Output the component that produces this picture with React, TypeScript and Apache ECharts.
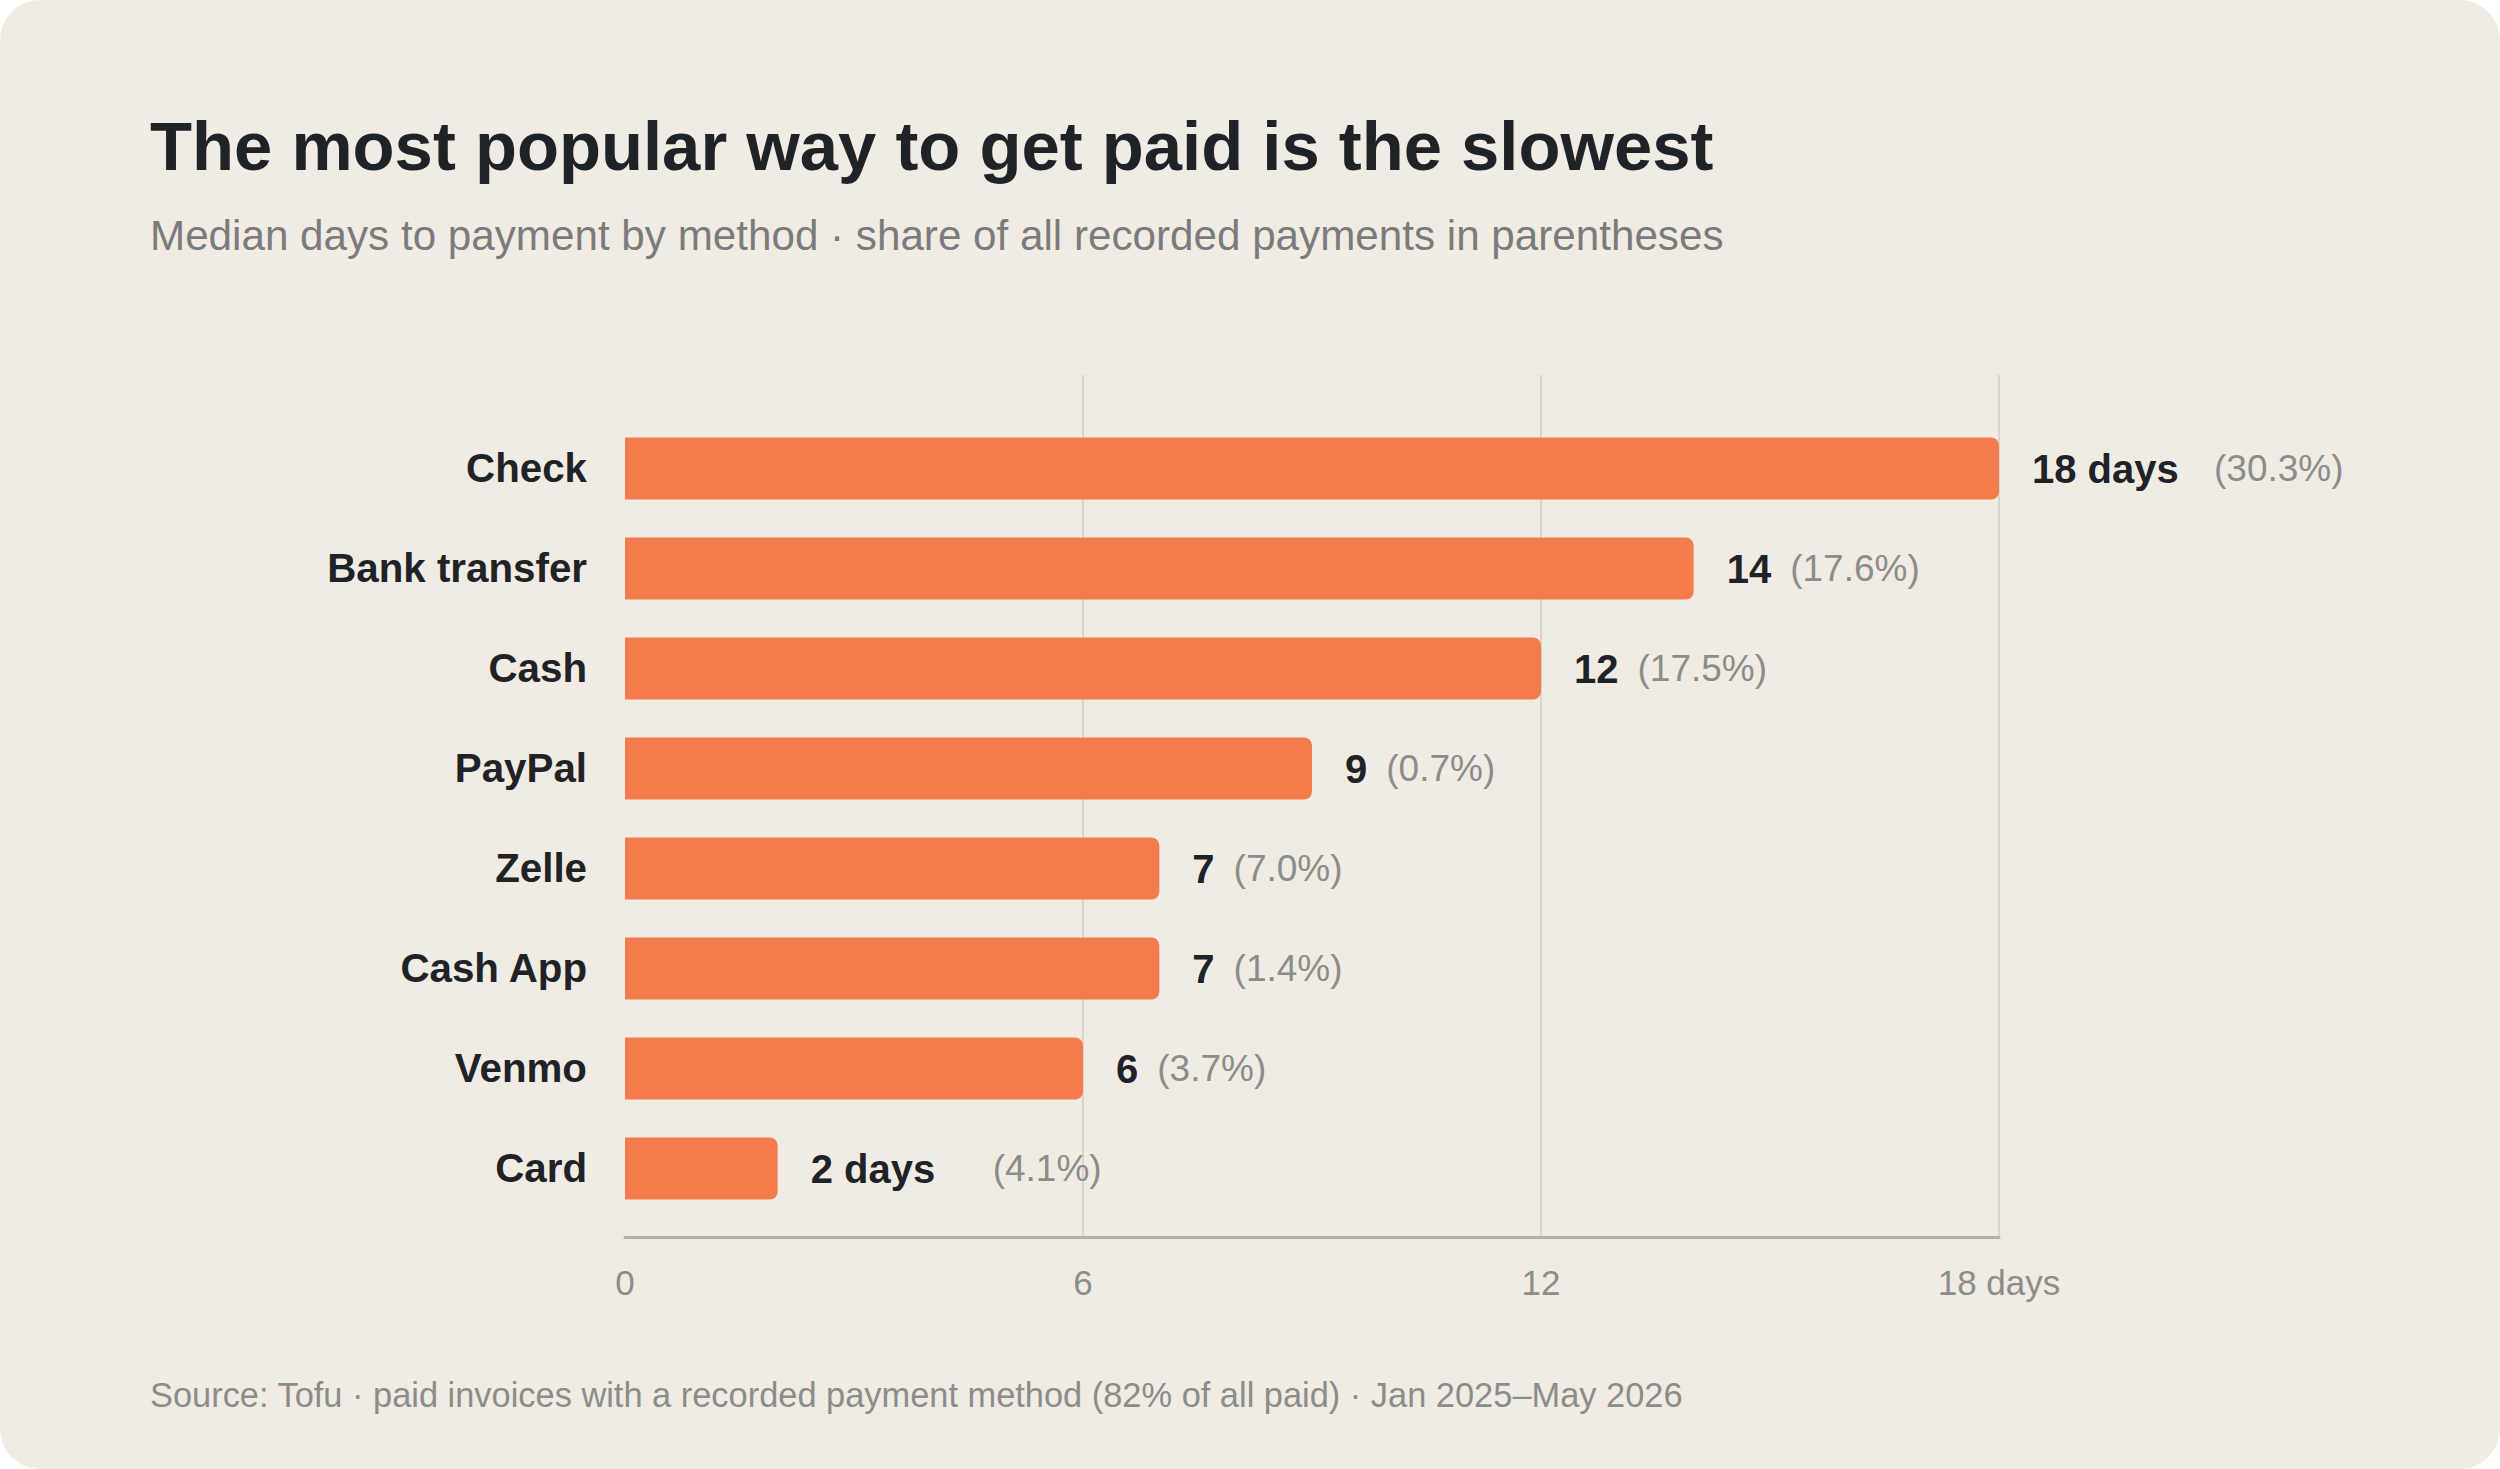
import { useEffect, useRef } from "react";
import * as echarts from "echarts";

// Median days to payment, by method (top to bottom as drawn).
const methods = ["Check", "Bank transfer", "Cash", "PayPal", "Zelle", "Cash App", "Venmo", "Card"];
const medianDays = [18, 14, 12, 9, 7, 7, 6, 2];
// Share of all recorded payments, in percent.
const shares = [30.3, 17.6, 17.5, 0.7, 7.0, 1.4, 3.7, 4.1];
const dayTicks = [0, 6, 12, 18];

const TITLE = "The most popular way to get paid is the slowest";
const SUBTITLE = "Median days to payment by method · share of all recorded payments in parentheses";
const SOURCE = "Source: Tofu · paid invoices with a recorded payment method (82% of all paid) · Jan 2025–May 2026";

const FONT = "'Liberation Sans', Arial, Helvetica, sans-serif";
const INK = "#1f2226";
const MUTED = "#7b7b7b";
const FAINT = "#8c8c8a";
const BAR = "#f47b4b";

const W = 2500;
const H = 1469;

export default function App() {
  const boxRef = useRef<HTMLDivElement>(null);

  useEffect(() => {
    if (!boxRef.current) return;
    const inst = echarts.init(boxRef.current, undefined, { renderer: "svg" });
    const last = methods.length - 1;
    const tickMax = dayTicks[dayTicks.length - 1];

    inst.setOption({
      animation: false,
      backgroundColor: "transparent",
      textStyle: { fontFamily: FONT },
      graphic: [
        { type: "text", left: 150, top: 112, style: { text: TITLE, font: `bold 68.8px ${FONT}`, fill: INK } },
        { type: "text", left: 150, top: 214, style: { text: SUBTITLE, font: `42.2px ${FONT}`, fill: MUTED } },
        { type: "text", left: 150, top: 1378, style: { text: SOURCE, font: `34.4px ${FONT}`, fill: FAINT } },
      ],
      grid: [
        // bars
        { left: 625, width: 1374, top: 418.5, height: 800 },
        // axis line, tick labels and gridlines (taller than the bar band)
        { left: 625, width: 1374, top: 375, height: 862 },
      ],
      xAxis: [
        { gridIndex: 0, type: "value", min: dayTicks[0], max: tickMax, show: false },
        {
          gridIndex: 1,
          type: "value",
          min: dayTicks[0],
          max: tickMax,
          interval: dayTicks[1] - dayTicks[0],
          axisLine: { show: true, lineStyle: { color: "#b2afa8", width: 3 } },
          axisTick: { show: false },
          axisLabel: {
            color: FAINT,
            fontSize: 35,
            fontFamily: FONT,
            margin: 28,
            formatter: (v: number) => (v === tickMax ? `${v} days` : `${v}`),
          },
          splitLine: { show: true, showMinLine: false, lineStyle: { color: "#d9d5cd", width: 2 } },
        },
      ],
      yAxis: [
        {
          gridIndex: 0,
          type: "category",
          inverse: true,
          data: methods,
          axisLine: { show: false },
          axisTick: { show: false },
          axisLabel: { color: INK, fontSize: 40.3, fontWeight: "bold", fontFamily: FONT, margin: 38 },
        },
        { gridIndex: 1, type: "value", show: false, min: 0, max: 1 },
      ],
      series: [
        {
          type: "bar",
          xAxisIndex: 0,
          yAxisIndex: 0,
          barWidth: 62,
          data: medianDays,
          itemStyle: { color: BAR, borderRadius: [0, 8, 8, 0] },
          label: {
            show: true,
            position: "right",
            distance: 33,
            formatter: (p: { dataIndex: number; value: number }) => {
              const i = p.dataIndex;
              const share = `(${shares[i].toFixed(1)}%)`;
              return i === 0 || i === last ? `{vd|${p.value} days}{p|${share}}` : `{v|${p.value}}{p|${share}}`;
            },
            rich: {
              v: { fontSize: 40, fontWeight: "bold", color: INK, fontFamily: FONT },
              vd: { fontSize: 40, fontWeight: "bold", color: INK, fontFamily: FONT, width: 163 },
              p: { fontSize: 37, color: FAINT, fontFamily: FONT, padding: [0, 0, 0, 19] },
            },
          },
        },
      ],
    });

    return () => inst.dispose();
  }, []);

  return (
    <div style={{ position: "absolute", left: 0, top: 0, width: W, height: H, background: "#ffffff" }}>
      <div style={{ width: W, height: H, borderRadius: 40, overflow: "hidden", background: "#f0ece4" }}>
        <div ref={boxRef} style={{ width: W, height: H }} />
      </div>
    </div>
  );
}
